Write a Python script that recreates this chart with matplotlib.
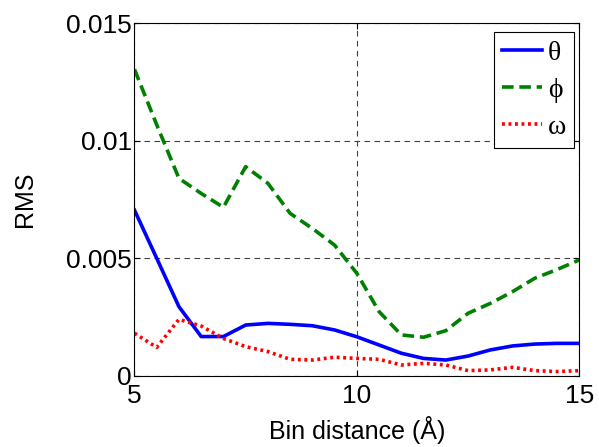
"""RMS of angles vs bin distance."""

import matplotlib
matplotlib.use("Agg")
import matplotlib.pyplot as plt

BIN_DIST = [5, 5.5, 6, 6.5, 7, 7.5, 8, 8.5, 9, 9.5, 10,
            10.5, 11, 11.5, 12, 12.5, 13, 13.5, 14, 14.5, 15]
THETA = [0.00705, 0.0050, 0.00294, 0.00167, 0.00167, 0.00216, 0.00223,
         0.00219, 0.00213, 0.00195, 0.00166, 0.00131, 0.00096, 0.00074,
         0.00067, 0.00084, 0.00110, 0.00127, 0.00135, 0.00138, 0.00138]
PHI = [0.01304, 0.01068, 0.0084, 0.00776, 0.00717, 0.0089, 0.00819,
       0.00691, 0.00627, 0.00556, 0.00436, 0.00273, 0.00174, 0.00164,
       0.00192, 0.00266, 0.00308, 0.00358, 0.00415, 0.00452, 0.00493]
OMEGA = [0.00181, 0.00121, 0.0024, 0.00212, 0.00159, 0.00124, 0.00103,
         0.0007, 0.00067, 0.00079, 0.00074, 0.0007, 0.00046, 0.00053,
         0.00046, 0.00022, 0.00025, 0.00036, 0.00022, 0.00018, 0.00022]
LABELS = ["θ", "ϕ", "ω"]

X_TICKS = [5, 10, 15]
Y_TICKS = [0, 0.005, 0.01, 0.015]
Y_TICK_LABELS = ["0", "0.005", "0.01", "0.015"]

plt.rcParams["font.family"] = ["Liberation Sans", "DejaVu Sans"]

fig = plt.figure(figsize=(5.99, 4.47), dpi=100)
ax = fig.add_axes([0.2245, 0.1593, 0.7425, 0.7886])

ax.plot(BIN_DIST, THETA, color="#0000ff", lw=2.6, label=LABELS[0])
ax.plot(BIN_DIST, PHI, color="#008000", lw=2.6, ls=(0, (3.2, 1.6)), label=LABELS[1])
ax.plot(BIN_DIST, OMEGA, color="#ff0000", lw=2.6, ls=(0, (0.8, 1.0)), label=LABELS[2])

ax.set_xlim(5, 15)
ax.set_ylim(0, 0.015)
ax.set_xticks(X_TICKS)
ax.set_yticks(Y_TICKS)
ax.set_yticklabels(Y_TICK_LABELS)
ax.tick_params(direction="in", length=4, labelsize=19, top=True, right=True,
               width=0.8)
ax.tick_params(axis="x", pad=6)
ax.tick_params(axis="y", pad=2)
ax.grid(True, color="0.25", ls=(0, (5, 4)), lw=0.8)

ax.set_xlabel("Bin distance (Å)", fontsize=18, labelpad=6)
ax.set_ylabel("RMS", fontsize=18, labelpad=21)

leg = ax.legend(loc="upper right", bbox_to_anchor=(0.989, 0.975),
                prop={"family": ["Liberation Serif", "DejaVu Serif"], "size": 20},
                handlelength=1.45, handletextpad=0.2, borderpad=0.3,
                labelspacing=0.42, fancybox=False, framealpha=1,
                edgecolor="black", borderaxespad=0.0)
leg.get_frame().set_linewidth(0.8)

fig.savefig("out.png", dpi=100)
